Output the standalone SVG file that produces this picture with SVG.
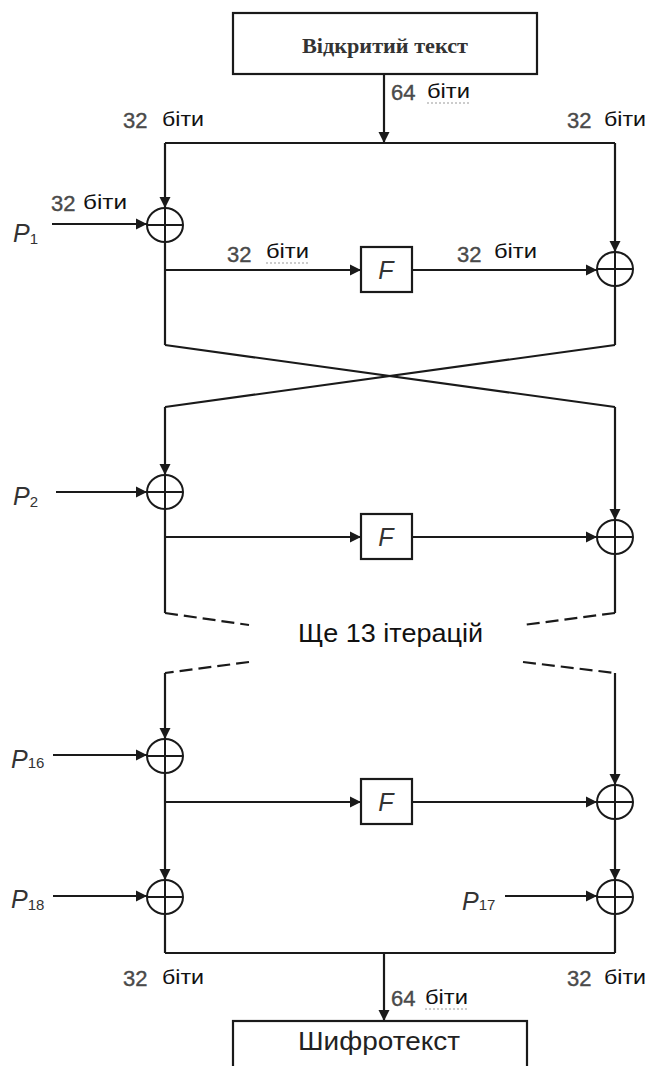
<svg xmlns="http://www.w3.org/2000/svg" width="650" height="1066" viewBox="0 0 650 1066">
<defs>
<marker id="ah" markerUnits="userSpaceOnUse" markerWidth="12" markerHeight="12" viewBox="0 0 12 12" refX="11" refY="6" orient="auto">
<path d="M0,0.5 L11,6 L0,11.5 Z" fill="#1a1a1a"/>
</marker>
<g id="xorsym">
<ellipse cx="0" cy="0" rx="18" ry="17" fill="none" stroke="#1a1a1a" stroke-width="2"/>
<line x1="-18" y1="0" x2="18" y2="0" stroke="#1a1a1a" stroke-width="2"/>
<line x1="0" y1="-17" x2="0" y2="17" stroke="#1a1a1a" stroke-width="2"/>
</g>
</defs>
<style>
.ln{stroke:#1a1a1a;stroke-width:2.2;fill:none}
.ar{marker-end:url(#ah)}
.dash{stroke-dasharray:13 6}
.box{fill:#fff;stroke:#1a1a1a;stroke-width:2.2}
.num{font-family:"Liberation Sans",Arial,sans-serif;font-size:22px;fill:#4a4a4a;stroke:#4a4a4a;stroke-width:0.4}
.bit{font-family:"Liberation Sans",Arial,sans-serif;font-size:21px;fill:#111}
.p{font-family:"Liberation Sans",Arial,sans-serif;font-size:25px;font-style:italic;fill:#333}
.sub{font-family:"Liberation Sans",Arial,sans-serif;font-size:15px;font-style:normal;fill:#333}
.f{font-family:"Liberation Sans",Arial,sans-serif;font-size:25px;font-style:italic;fill:#333}
.ul{stroke:#999;stroke-width:1;stroke-dasharray:2 2}
</style>

<g id="connectors">
<line class="ln ar" x1="384" y1="74" x2="384" y2="143"/>
<line class="ln" x1="165" y1="143" x2="615" y2="143"/>
<line class="ln ar" x1="165" y1="143" x2="165" y2="208"/>
<line class="ln ar" x1="52" y1="224" x2="147" y2="224"/>
<line class="ln" x1="165" y1="242" x2="165" y2="345"/>
<line class="ln ar" x1="165" y1="270" x2="361" y2="270"/>
<line class="ln ar" x1="412" y1="270" x2="597" y2="270"/>
<line class="ln ar" x1="615" y1="143" x2="615" y2="252"/>
<line class="ln" x1="615" y1="286" x2="615" y2="345"/>
<line class="ln" x1="165" y1="345" x2="615" y2="407"/>
<line class="ln" x1="615" y1="345" x2="165" y2="407"/>
<line class="ln ar" x1="165" y1="407" x2="165" y2="475"/>
<line class="ln ar" x1="56" y1="492" x2="147" y2="492"/>
<line class="ln" x1="165" y1="509" x2="165" y2="613"/>
<line class="ln ar" x1="165" y1="537" x2="361" y2="537"/>
<line class="ln ar" x1="412" y1="537" x2="597" y2="537"/>
<line class="ln ar" x1="615" y1="407" x2="615" y2="520"/>
<line class="ln" x1="615" y1="554" x2="615" y2="613"/>
<line class="ln dash" x1="165" y1="613" x2="249" y2="625"/>
<line class="ln dash" x1="615" y1="613" x2="523" y2="625"/>
<line class="ln dash" x1="249" y1="662" x2="165" y2="673"/>
<line class="ln dash" x1="523" y1="662" x2="615" y2="673"/>
<line class="ln ar" x1="165" y1="673" x2="165" y2="739"/>
<line class="ln ar" x1="53" y1="755" x2="147" y2="755"/>
<line class="ln ar" x1="165" y1="773" x2="165" y2="880"/>
<line class="ln ar" x1="165" y1="802" x2="361" y2="802"/>
<line class="ln ar" x1="412" y1="802" x2="597" y2="802"/>
<line class="ln ar" x1="615" y1="673" x2="615" y2="785"/>
<line class="ln ar" x1="615" y1="819" x2="615" y2="880"/>
<line class="ln ar" x1="53" y1="896" x2="147" y2="896"/>
<line class="ln ar" x1="505" y1="896" x2="597" y2="896"/>
<line class="ln" x1="165" y1="914" x2="165" y2="953"/>
<line class="ln" x1="615" y1="914" x2="615" y2="953"/>
<line class="ln" x1="165" y1="953" x2="615" y2="953"/>
<line class="ln ar" x1="384" y1="953" x2="384" y2="1021"/>
</g>

<g id="plaintext">
<rect class="box" x="233" y="13" width="304" height="61"/>
<text x="385" y="53" text-anchor="middle" font-family="Liberation Serif,'Times New Roman',serif" font-size="21" font-weight="bold" fill="#333" textLength="166" lengthAdjust="spacingAndGlyphs">Відкритий текст</text>
</g>
<g id="ciphertext">
<rect class="box" x="233" y="1021" width="294" height="50"/>
<text x="379" y="1050" text-anchor="middle" font-family="Liberation Sans,Arial,sans-serif" font-size="25" fill="#222" textLength="162" lengthAdjust="spacingAndGlyphs">Шифротекст</text>
</g>

<g id="F1"><rect class="box" x="361" y="247" width="51" height="45"/><text class="f" x="386" y="279" text-anchor="middle">F</text></g>
<g id="F2"><rect class="box" x="361" y="514" width="51" height="45"/><text class="f" x="386" y="546" text-anchor="middle">F</text></g>
<g id="F3"><rect class="box" x="361" y="779" width="51" height="45"/><text class="f" x="386" y="811" text-anchor="middle">F</text></g>

<g id="xor1"><use href="#xorsym" x="165" y="225"/></g>
<g id="xor2"><use href="#xorsym" x="615" y="269"/></g>
<g id="xor3"><use href="#xorsym" x="165" y="492"/></g>
<g id="xor4"><use href="#xorsym" x="615" y="537"/></g>
<g id="xor5"><use href="#xorsym" x="165" y="756"/></g>
<g id="xor6"><use href="#xorsym" x="615" y="802"/></g>
<g id="xor7"><use href="#xorsym" x="165" y="897"/></g>
<g id="xor8"><use href="#xorsym" x="615" y="897"/></g>

<g id="keys">
<text class="p" x="13" y="242">P<tspan class="sub" dy="2" font-size="17">1</tspan></text>
<text class="p" x="13" y="505">P<tspan class="sub" dy="2">2</tspan></text>
<text class="p" x="11" y="768">P<tspan class="sub" dy="0">16</tspan></text>
<text class="p" x="11" y="908">P<tspan class="sub" dy="2">18</tspan></text>
<text class="p" x="462" y="910">P<tspan class="sub" dy="0">17</tspan></text>
</g>

<g id="labels">
<text class="num" x="391" y="100">64</text><text class="bit" x="427" y="98" textLength="43" lengthAdjust="spacingAndGlyphs">біти</text>
<line class="ul" x1="427" y1="103" x2="470" y2="103"/>
<text class="num" x="123" y="128">32</text><text class="bit" x="162" y="126" textLength="42" lengthAdjust="spacingAndGlyphs">біти</text>
<text class="num" x="567" y="128">32</text><text class="bit" x="604" y="126" textLength="42" lengthAdjust="spacingAndGlyphs">біти</text>
<text class="num" x="51" y="211">32</text><text class="bit" x="83" y="209" textLength="44" lengthAdjust="spacingAndGlyphs">біти</text>
<text class="num" x="227" y="262">32</text><text class="bit" x="266" y="258" textLength="43" lengthAdjust="spacingAndGlyphs">біти</text>
<line class="ul" x1="266" y1="263" x2="309" y2="263"/>
<text class="num" x="457" y="262">32</text><text class="bit" x="494" y="258" textLength="43" lengthAdjust="spacingAndGlyphs">біти</text>
<text x="298" y="642" font-family="Liberation Sans,Arial,sans-serif" font-size="25" fill="#111" textLength="185" lengthAdjust="spacingAndGlyphs">Ще 13 ітерацій</text>
<text class="num" x="123" y="986">32</text><text class="bit" x="162" y="984" textLength="42" lengthAdjust="spacingAndGlyphs">біти</text>
<text class="num" x="567" y="986">32</text><text class="bit" x="604" y="984" textLength="42" lengthAdjust="spacingAndGlyphs">біти</text>
<text class="num" x="391" y="1006">64</text><text class="bit" x="425" y="1004" textLength="43" lengthAdjust="spacingAndGlyphs">біти</text>
<line class="ul" x1="425" y1="1009" x2="468" y2="1009"/>
</g>
</svg>
